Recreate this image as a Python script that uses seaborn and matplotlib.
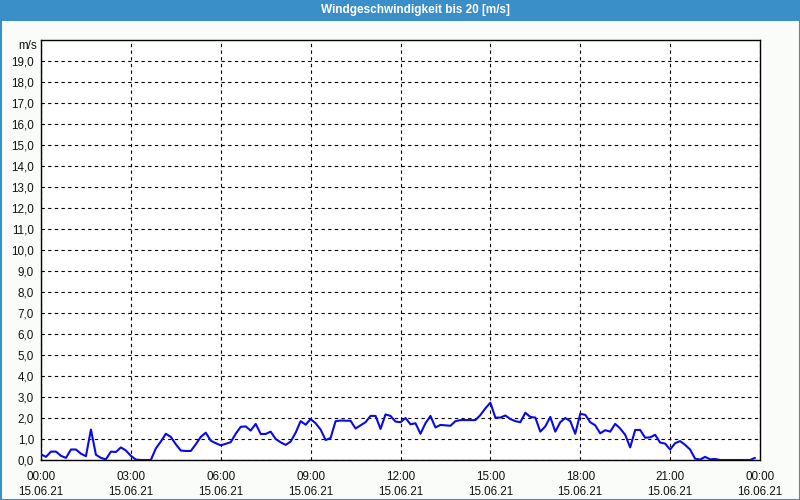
import numpy as np
import pandas as pd
import matplotlib
matplotlib.use("Agg")
import matplotlib.pyplot as plt
from matplotlib.patches import Rectangle
from matplotlib.ticker import MultipleLocator, FixedLocator
import seaborn as sns

title = "Windgeschwindigkeit bis 20 [m/s]"
unit_label = "m/s"
interval_minutes = 10
# wind speed in m/s, one value every 10 minutes from 15.06.21 00:00
speed = [
    0.27, 0.15, 0.40, 0.40, 0.20, 0.10, 0.50, 0.50, 0.30, 0.18,
    1.45, 0.25, 0.10, 0.03, 0.40, 0.38, 0.60, 0.45, 0.20, 0.02,
    0.00, 0.00, 0.00, 0.55, 0.88, 1.25, 1.10, 0.75, 0.45, 0.43,
    0.43, 0.75, 1.10, 1.30, 0.92, 0.80, 0.70, 0.77, 0.85, 1.25,
    1.58, 1.60, 1.40, 1.72, 1.24, 1.24, 1.35, 1.00, 0.84, 0.72,
    0.88, 1.30, 1.85, 1.68, 1.95, 1.75, 1.45, 0.95, 1.05, 1.85,
    1.88, 1.87, 1.87, 1.50, 1.65, 1.80, 2.10, 2.10, 1.48, 2.17,
    2.10, 1.83, 1.80, 2.00, 1.70, 1.75, 1.25, 1.75, 2.10, 1.55,
    1.67, 1.65, 1.63, 1.85, 1.90, 1.90, 1.90, 1.90, 2.14, 2.46,
    2.73, 2.02, 2.02, 2.12, 1.95, 1.85, 1.80, 2.25, 2.05, 2.02,
    1.35, 1.60, 2.05, 1.35, 1.80, 2.00, 1.85, 1.25, 2.20, 2.15,
    1.80, 1.65, 1.27, 1.42, 1.35, 1.72, 1.50, 1.20, 0.60, 1.43,
    1.43, 1.06, 1.08, 1.20, 0.83, 0.78, 0.50, 0.80, 0.90, 0.72,
    0.50, 0.06, 0.02, 0.15, 0.03, 0.05, 0.00, 0.00, 0.00, 0.00,
    0.00, 0.00, 0.00, 0.10,
]
x_tick_hours = [0, 3, 6, 9, 12, 15, 18, 21, 24]
x_tick_labels = [
    "00:00\n15.06.21", "03:00\n15.06.21", "06:00\n15.06.21",
    "09:00\n15.06.21", "12:00\n15.06.21", "15:00\n15.06.21",
    "18:00\n15.06.21", "21:00\n15.06.21", "00:00\n16.06.21",
]
y_ticks = list(range(0, 20))
y_tick_labels = [f"{v},0" for v in y_ticks]

df = pd.DataFrame({
    "hour": np.arange(len(speed)) * interval_minutes / 60.0,
    "speed": speed,
})

sns.set_style("white")
plt.rcParams["font.family"] = ["Liberation Sans", "DejaVu Sans"]

W, H = 800, 500
fig = plt.figure(figsize=(8, 5), dpi=100, facecolor="#fafcfa")
ax = fig.add_axes([41 / W, 1 - 460 / H, (760 - 41) / W, (460 - 40) / H])
ax.set_facecolor("white")

sns.lineplot(data=df, x="hour", y="speed", ax=ax, color="#0a0ae6",
             linewidth=1.5, zorder=3)

ax.set_xlim(0, 24)
ax.set_ylim(0, 20)
ax.xaxis.set_major_locator(FixedLocator(x_tick_hours))
ax.xaxis.set_minor_locator(MultipleLocator(1))
ax.set_xticklabels(x_tick_labels, fontsize=8.4, color="#111111", linespacing=1.3)
ax.yaxis.set_major_locator(FixedLocator(y_ticks))
ax.set_yticklabels(y_tick_labels, fontsize=8.4, color="#111111")
ax.set_xlabel("")
ax.set_ylabel("")

ax.tick_params(axis="x", which="major", direction="out", length=4, width=0.8,
               color="black", pad=4)
ax.tick_params(axis="x", which="minor", direction="out", length=4, width=0.8,
               color="black")
ax.tick_params(axis="y", which="major", direction="out", length=2, width=0.8,
               color="black", pad=3)

for sp in ax.spines.values():
    sp.set_visible(True)
    sp.set_color("black")
    sp.set_linewidth(1.0)

ax.grid(True, which="major", axis="both", color="black", linestyle=(0, (3, 3)),
        linewidth=0.8)
ax.set_axisbelow(True)

# unit label above y ticks
fig.text(37 / W, 1 - 46 / H, unit_label, ha="right", va="center",
         fontsize=8.4, color="#111111")

# title bar
fig.patches.append(Rectangle((0, 1 - 21 / H), 1, 21 / H, transform=fig.transFigure,
                             facecolor="#3b8fc8", edgecolor="none", zorder=0))
fig.text(415 / W, 1 - 10.5 / H, title, ha="center", va="center",
         fontsize=8.5, fontweight="bold", color="white")
# outer frame
fig.patches.append(Rectangle((0.5 / W, 0.5 / H), 1 - 1 / W, 1 - 1 / H,
                             transform=fig.transFigure, facecolor="none",
                             edgecolor="#3b8fc8", linewidth=1.5, zorder=1))

fig.savefig("out.png", dpi=100, facecolor=fig.get_facecolor())
